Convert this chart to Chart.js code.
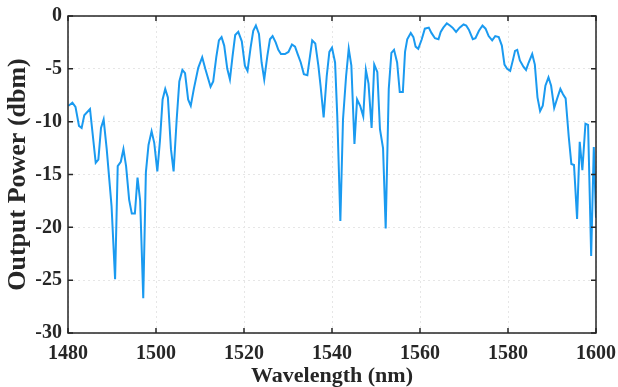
<!DOCTYPE html>
<html>
<head>
<meta charset="utf-8">
<script src="https://cdn.jsdelivr.net/npm/chart.js@4.4.0/dist/chart.umd.min.js"></script>
<style>
  html, body { margin: 0; padding: 0; background: #fff; }
  #wrap { width: 618px; height: 387px; }
</style>
</head>
<body>
<div id="wrap"><canvas id="chart1"></canvas></div>
<script>
// wavelength (nm) and output power (dbm)
var wavelength = [
  1480.1, 1481.0, 1481.7, 1482.5, 1483.1, 1483.7, 1485.0, 1486.3, 1486.9, 1487.5,
  1488.1, 1488.8, 1489.9, 1490.7, 1491.3, 1492.0, 1492.6, 1493.2, 1493.9, 1494.5,
  1495.2, 1495.8, 1496.4, 1497.1, 1497.7, 1498.3, 1499.0, 1499.6, 1500.3, 1500.9,
  1501.5, 1502.1, 1502.7, 1503.4, 1504.0, 1504.7, 1505.3, 1506.0, 1506.6, 1507.3,
  1507.9, 1508.6, 1509.6, 1510.5, 1511.2, 1512.4, 1513.0, 1513.7, 1514.3, 1514.9,
  1515.5, 1516.2, 1516.8, 1517.4, 1518.0, 1518.7, 1519.5, 1520.2, 1520.8, 1521.5,
  1522.1, 1522.7, 1523.4, 1524.0, 1524.6, 1525.3, 1525.9, 1526.5, 1527.2, 1527.8,
  1528.4, 1529.3, 1530.1, 1530.9, 1531.6, 1532.2, 1532.9, 1533.6, 1534.4, 1535.0,
  1535.5, 1536.2, 1536.9, 1537.4, 1538.1, 1538.8, 1539.4, 1540.0, 1540.7, 1541.2,
  1541.9, 1542.5, 1543.2, 1543.8, 1544.4, 1545.1, 1545.7, 1546.4, 1547.1, 1547.7,
  1548.3, 1549.0, 1549.6, 1550.3, 1550.9, 1551.6, 1552.2, 1552.9, 1553.5, 1554.1,
  1554.8, 1555.4, 1556.1, 1556.6, 1557.1, 1557.9, 1558.5, 1559.0, 1559.6, 1560.4,
  1561.1, 1562.0, 1562.6, 1563.4, 1564.2, 1564.7, 1565.3, 1566.1, 1566.8, 1567.4,
  1568.2, 1569.0, 1569.9, 1570.5, 1571.1, 1572.0, 1572.6, 1573.4, 1574.2, 1574.9,
  1575.6, 1576.4, 1577.1, 1577.9, 1578.6, 1579.2, 1579.8, 1580.5, 1581.1, 1581.6,
  1582.1, 1582.7, 1583.5, 1584.1, 1584.7, 1585.5, 1586.1, 1586.7, 1587.3, 1587.9,
  1588.5, 1589.2, 1589.8, 1590.5, 1591.1, 1591.9, 1592.5, 1593.1, 1593.8, 1594.4,
  1595.0, 1595.7, 1596.3, 1596.9, 1597.6, 1598.2, 1598.9, 1599.5, 1600.0
];
var outputPower = [
  -8.5, -8.2, -8.6, -10.4, -10.6, -9.4, -8.8, -13.9, -13.6, -10.6,
  -9.8, -12.6, -18.0, -24.9, -14.2, -13.8, -12.6, -14.2, -17.4, -18.7,
  -18.7, -15.3, -17.5, -26.7, -14.8, -12.2, -10.9, -12.0, -14.7, -11.8,
  -7.9, -6.9, -7.7, -12.6, -14.7, -9.8, -6.2, -5.1, -5.4, -7.9,
  -8.5, -6.9, -4.9, -3.9, -5.0, -6.7, -6.2, -3.9, -2.3, -2.0,
  -2.8, -5.0, -6.0, -3.8, -1.8, -1.5, -2.4, -4.7, -5.2, -3.0,
  -1.4, -0.9, -1.7, -4.4, -6.0, -3.8, -2.2, -1.9, -2.5, -3.2,
  -3.6, -3.6, -3.4, -2.7, -2.9, -3.6, -4.4, -5.5, -5.6, -3.8,
  -2.3, -2.6, -4.7, -6.6, -9.6, -5.7, -3.4, -3.0, -4.4, -9.5,
  -19.4, -9.8, -5.7, -3.1, -4.7, -12.1, -7.9, -8.5, -9.5, -5.1,
  -6.4, -10.6, -4.6, -5.3, -10.7, -12.5, -20.1, -6.9, -3.5, -3.2,
  -4.4, -7.2, -7.2, -3.4, -2.2, -1.6, -2.0, -2.9, -3.1, -2.2,
  -1.2, -1.1, -1.6, -2.1, -2.2, -1.5, -1.1, -0.7, -0.9, -1.1,
  -1.5, -1.1, -0.8, -0.9, -1.3, -2.2, -2.1, -1.4, -0.9, -1.2,
  -1.9, -2.3, -1.9, -2.0, -2.8, -4.6, -5.0, -5.2, -4.2, -3.3,
  -3.2, -4.2, -4.8, -5.1, -4.4, -3.6, -4.6, -7.7, -9.0, -8.5,
  -6.6, -5.8, -6.6, -8.7, -7.9, -6.9, -7.4, -7.8, -11.4, -14.0,
  -14.1, -19.2, -11.9, -14.6, -10.2, -10.3, -22.7, -12.4, -19.1
];
var xTicks = [1480, 1500, 1520, 1540, 1560, 1580, 1600];
var yTicks = [-30, -25, -20, -15, -10, -5, 0];

var points = [];
for (var i = 0; i < wavelength.length; i++) {
  points.push({ x: wavelength[i], y: outputPower[i] });
}

// box round the plot and inward tick marks, MATLAB style
var boxPlugin = {
  id: "box",
  afterDraw: function (chart) {
    var ctx = chart.ctx, a = chart.chartArea;
    var sx = chart.scales.x, sy = chart.scales.y;
    ctx.save();
    ctx.strokeStyle = "#262626";
    ctx.lineWidth = 1.5;
    ctx.strokeRect(a.left, a.top, a.right - a.left, a.bottom - a.top);
    ctx.beginPath();
    xTicks.forEach(function (v) {
      var px = sx.getPixelForValue(v);
      ctx.moveTo(px, a.bottom); ctx.lineTo(px, a.bottom - 5);
      ctx.moveTo(px, a.top); ctx.lineTo(px, a.top + 5);
    });
    yTicks.forEach(function (v) {
      var py = sy.getPixelForValue(v);
      ctx.moveTo(a.left, py); ctx.lineTo(a.left + 5, py);
      ctx.moveTo(a.right, py); ctx.lineTo(a.right - 5, py);
    });
    ctx.stroke();
    ctx.restore();
  }
};

var font = "'Liberation Serif', 'Times New Roman', serif";

var ctx1 = document.getElementById("chart1").getContext("2d");
var chart1 = new Chart(ctx1, {
  type: "line",
  data: {
    datasets: [{
      data: points,
      borderColor: "#1a9af0",
      borderWidth: 2,
      pointRadius: 0,
      tension: 0,
      fill: false
    }]
  },
  options: {
    responsive: true,
    maintainAspectRatio: false,
    animation: false,
    layout: { padding: { top: 16, right: 22, left: 0, bottom: 0 } },
    plugins: {
      legend: { display: false },
      tooltip: { enabled: false }
    },
    scales: {
      x: {
        type: "linear",
        min: 1480,
        max: 1600,
        afterBuildTicks: function (s) { s.ticks = xTicks.map(function (v) { return { value: v }; }); },
        afterFit: function (s) { s.height = 54; s.paddingRight = 0; s.paddingLeft = 0; },
        grid: { color: "#e6e6e6", drawTicks: false },
        border: { display: false, dash: [2, 3] },
        ticks: {
          color: "#262626",
          padding: 9,
          maxRotation: 0,
          callback: function (v) { return String(v); },
          font: { family: font, size: 20, weight: "bold" }
        },
        title: {
          display: true,
          text: "Wavelength (nm)",
          color: "#262626",
          padding: { top: 0, bottom: 0 },
          font: { family: font, size: 22, weight: "bold", lineHeight: 1.0 }
        }
      },
      y: {
        min: -30,
        max: 0,
        afterBuildTicks: function (s) { s.ticks = yTicks.map(function (v) { return { value: v }; }); },
        afterFit: function (s) { s.width = 68; s.paddingTop = 0; s.paddingBottom = 0; },
        grid: { color: "#e6e6e6", drawTicks: false },
        border: { display: false, dash: [2, 3] },
        ticks: {
          color: "#262626",
          padding: 6,
          font: { family: font, size: 20, weight: "bold" }
        },
        title: {
          display: true,
          text: "Output Power (dbm)",
          color: "#262626",
          padding: { top: 4, bottom: 0 },
          font: { family: font, size: 26, weight: "bold", lineHeight: 1.1 }
        }
      }
    }
  },
  plugins: [boxPlugin]
});
</script>
</body>
</html>
